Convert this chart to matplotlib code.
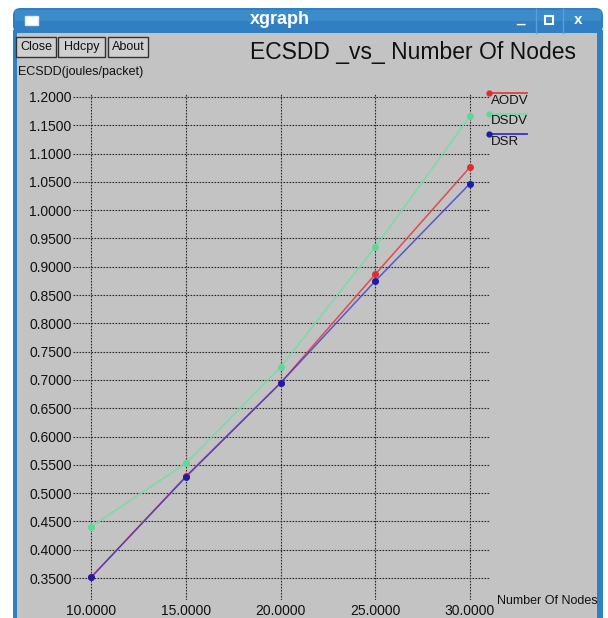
import matplotlib
matplotlib.use("Agg")
import matplotlib.pyplot as plt
from matplotlib.patches import Rectangle, FancyBboxPatch
from matplotlib.lines import Line2D

# node counts and energy per packet for each routing protocol
nodes = [10, 15, 20, 25, 30]
aodv = [0.352, 0.530, 0.695, 0.887, 1.076]
dsdv = [0.441, 0.553, 0.723, 0.935, 1.166]
dsr = [0.352, 0.529, 0.695, 0.875, 1.047]
series_names = ["AODV", "DSDV", "DSR"]
series_colors = ["#e04040", "#6ee0a4", "#3434d0"]
marker_colors = ["#e02c2c", "#5ed898", "#1c1ca8"]
y_ticks = [0.35, 0.40, 0.45, 0.50, 0.55, 0.60, 0.65, 0.70, 0.75, 0.80,
           0.85, 0.90, 0.95, 1.00, 1.05, 1.10, 1.15, 1.20]
x_ticks = [10, 15, 20, 25, 30]

W, H = 608, 618
plt.rcParams["font.family"] = ["Liberation Sans", "DejaVu Sans"]

fig = plt.figure(figsize=(W / 100, H / 100), dpi=100)
fig.patch.set_facecolor("white")


def fx(x):
    return x / W


def fy(y):
    return 1 - y / H


body = "#c3c3c3"
frame_blue = "#2f7fc2"

# window frame and body (kept underneath the axes)
fig.patches.append(Rectangle((fx(13), fy(640)), fx(590), fy(30) - fy(640),
                             transform=fig.transFigure, facecolor=frame_blue,
                             edgecolor="none", zorder=-3))
fig.patches.append(Rectangle((fx(17), fy(640)), fx(580), fy(33) - fy(640),
                             transform=fig.transFigure, facecolor=body,
                             edgecolor="none", zorder=-3))
# title bar
fig.patches.append(FancyBboxPatch((fx(13), fy(33)), fx(590), fy(8) - fy(33),
                                  boxstyle="round,pad=0,rounding_size=0.012",
                                  transform=fig.transFigure, facecolor=frame_blue,
                                  edgecolor="none", zorder=-3))
fig.patches.append(Rectangle((fx(15), fy(21)), fx(586), fy(10) - fy(21),
                             transform=fig.transFigure, facecolor="#4a97d4",
                             edgecolor="none", alpha=0.5, zorder=-2))
fig.text(fx(280), fy(20), "xgraph", color="white", fontsize=13, fontweight="bold",
         ha="center", va="center")
# window menu icon
fig.patches.append(Rectangle((fx(25), fy(25)), fx(13), fy(16) - fy(25),
                             transform=fig.transFigure, facecolor="white",
                             edgecolor="#dfe8f0", zorder=-1))
# minimize / maximize / close
for xs in (536, 563):
    fig.lines.append(Line2D([fx(xs), fx(xs)], [fy(9), fy(33)], transform=fig.transFigure,
                            color="#5f9fd4", lw=1, zorder=-1))
fig.text(fx(520), fy(19), "_", color="white", fontsize=11, fontweight="bold",
         ha="center", va="center")
fig.patches.append(Rectangle((fx(545), fy(24)), fx(8), fy(16) - fy(24),
                             transform=fig.transFigure, facecolor="none",
                             edgecolor="white", lw=1.5, zorder=-1))
fig.text(fx(578), fy(20), "x", color="white", fontsize=11, fontweight="bold",
         ha="center", va="center")

# xgraph buttons
for label, x0, x1 in [("Close", 16, 56), ("Hdcpy", 58, 105), ("About", 108, 148)]:
    fig.patches.append(Rectangle((fx(x0), fy(57)), fx(x1 - x0), fy(37) - fy(57),
                                 transform=fig.transFigure, facecolor="#cfcfcf",
                                 edgecolor="#333333", lw=1, zorder=-1))
    fig.text(fx((x0 + x1) / 2), fy(47), label, fontsize=9, color="#111111",
             ha="center", va="center")

fig.text(fx(413), fy(53), "ECSDD _vs_ Number Of Nodes", fontsize=16.5,
         color="#111111", ha="center", va="center")
fig.text(fx(18), fy(72), "ECSDD(joules/packet)", fontsize=9, color="#111111",
         ha="left", va="center")
fig.text(fx(497), fy(601), "Number Of Nodes", fontsize=9, color="#111111",
         ha="left", va="center")

# plotting area: 10 -> 91.5px, 30 -> 470px, 1.2 -> 97px, 0.35 -> 578px
left, right, top, bottom = 73, 490, 93, 600
ax = fig.add_axes([fx(left), fy(bottom), fx(right - left), fy(top) - fy(bottom)])
ax.set_zorder(1)
ax.patch.set_alpha(0)
px_x = (470 - 91.5) / 20
px_y = (578 - 97) / 0.85
ax.set_xlim(10 - (91.5 - left) / px_x, 30 + (right - 470) / px_x)
ax.set_ylim(0.35 - (bottom - 578) / px_y, 1.2 + (97 - top) / px_y)
for s in ax.spines.values():
    s.set_visible(False)

for yv in y_ticks:
    ax.axhline(yv, color="#2a2a2a", lw=0.8, ls=(0, (1.5, 1.2)), zorder=1)
for xv in x_ticks:
    ax.axvline(xv, color="#2a2a2a", lw=0.8, ls=(0, (1.5, 1.2)), zorder=1)

ax.set_yticks(y_ticks)
ax.set_yticklabels([f"{v:.4f}" for v in y_ticks])
ax.set_xticks(x_ticks)
ax.set_xticklabels([f"{v:.4f}" for v in x_ticks])
ax.tick_params(length=0, labelsize=10, colors="#111111")
ax.tick_params(axis="y", pad=1)
ax.tick_params(axis="x", pad=3)

data = [aodv, dsdv, dsr]
alphas = [0.9, 0.9, 0.75]
for vals, col, mcol, a in zip(data, series_colors, marker_colors, alphas):
    ax.plot(nodes, vals, color=col, lw=1.1, alpha=a, zorder=3)
    ax.plot(nodes, vals, ls="none", marker="o", ms=4, color=mcol, zorder=4)

# legend in the right margin
for i, (name, col, mcol) in enumerate(zip(series_names, series_colors, marker_colors)):
    ly = 93 + i * 20.5
    fig.lines.append(Line2D([fx(489), fx(527)], [fy(ly), fy(ly)],
                            transform=fig.transFigure, color=col, lw=1.3, zorder=2))
    fig.lines.append(Line2D([fx(489)], [fy(ly)], transform=fig.transFigure,
                            marker="o", ms=3.5, color=mcol, ls="none", zorder=2))
    fig.text(fx(491), fy(ly + 8), name, fontsize=9.5, color="#111111",
             ha="left", va="center")

fig.savefig("out.png", dpi=100)
